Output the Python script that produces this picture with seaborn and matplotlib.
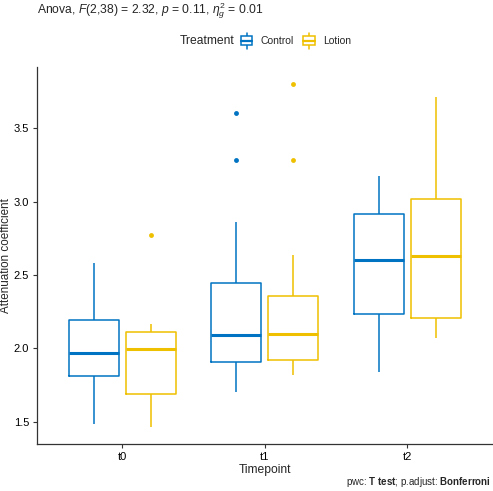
import pandas as pd
import seaborn as sns
import matplotlib
matplotlib.use('Agg')
import matplotlib.pyplot as plt
from matplotlib.legend_handler import HandlerBase
from matplotlib.patches import Rectangle
from matplotlib.lines import Line2D

timepoints = ['t0', 't1', 't2']
treatments = ['Control', 'Lotion']
colors = ['#0073C2', '#EFC000']

t0_control = [1.484, 1.62, 1.74, 1.813, 1.88, 1.93, 1.968, 2.03, 2.10, 2.193, 2.30, 2.45, 2.584]
t0_lotion = [1.464, 1.55, 1.64, 1.691, 1.80, 1.90, 1.995, 2.03, 2.07, 2.109, 2.14, 2.166, 2.774]
t1_control = [1.700, 1.80, 1.87, 1.909, 1.98, 2.04, 2.093, 2.20, 2.33, 2.443, 2.863, 3.284, 3.602]
t1_lotion = [1.820, 1.86, 1.89, 1.918, 1.98, 2.05, 2.100, 2.18, 2.27, 2.359, 2.636, 3.284, 3.800]
t2_control = [1.840, 2.00, 2.12, 2.232, 2.38, 2.50, 2.600, 2.72, 2.83, 2.913, 3.00, 3.10, 3.175]
t2_lotion = [2.068, 2.12, 2.17, 2.205, 2.35, 2.50, 2.627, 2.75, 2.90, 3.016, 3.25, 3.50, 3.711]

groups = {
    ('t0', 'Control'): t0_control, ('t0', 'Lotion'): t0_lotion,
    ('t1', 'Control'): t1_control, ('t1', 'Lotion'): t1_lotion,
    ('t2', 'Control'): t2_control, ('t2', 'Lotion'): t2_lotion,
}
rows = []
for (tp, tr), vals in groups.items():
    for v in vals:
        rows.append({'Timepoint': tp, 'Treatment': tr, 'Attenuation coefficient': v})
data = pd.DataFrame(rows)


class BoxKey(HandlerBase):
    """Маленький значок ящика с усами, как в ggplot."""
    def create_artists(self, legend, orig_handle, xdescent, ydescent, width, height, fontsize, trans):
        c = orig_handle.get_edgecolor()
        cx = width / 2 - xdescent
        cy = height / 2 - ydescent
        w = 8.5
        h = 6.5
        box = Rectangle((cx - w / 2, cy - h / 2), w, h, facecolor='white', edgecolor=c,
                        linewidth=1.1, transform=trans)
        wh = Line2D([cx, cx], [cy - h / 2 - 2.5, cy + h / 2 + 2.5], color=c, linewidth=1.1,
                    transform=trans)
        med = Line2D([cx - w / 2, cx + w / 2], [cy, cy], color=c, linewidth=1.6, transform=trans)
        return [wh, box, med]


sns.set_style('ticks')
plt.rcParams['font.family'] = ['Liberation Sans', 'DejaVu Sans']
plt.rcParams['mathtext.fontset'] = 'custom'
plt.rcParams['mathtext.rm'] = 'Liberation Sans'
plt.rcParams['mathtext.it'] = 'Liberation Sans:italic'
plt.rcParams['mathtext.bf'] = 'Liberation Sans:bold'

fig = plt.figure(figsize=(4.93, 4.91), dpi=100)
ax = fig.add_axes([0.0745, 0.0957, 0.925, 0.7678])

sns.boxplot(data=data, x='Timepoint', y='Attenuation coefficient', hue='Treatment',
            order=timepoints, hue_order=treatments, palette=colors, fill=False,
            width=0.8, gap=0.12, linewidth=1.1, whis=1.5, showcaps=False,
            medianprops={'linewidth': 2.2},
            flierprops={'marker': 'o', 'markersize': 3.5, 'markeredgewidth': 0},
            ax=ax)

# точки-выбросы закрашиваем цветом группы
for cont, c in zip(ax.containers, colors):
    for f in cont.fliers:
        f.set_markerfacecolor(c)
        f.set_markeredgecolor(c)

ax.set_xlim(-0.6, 2.6)
ax.set_ylim(1.348, 3.917)
ax.set_yticks([1.5, 2.0, 2.5, 3.0, 3.5])
ax.set_yticklabels(['1.5', '2.0', '2.5', '3.0', '3.5'])
ax.tick_params(axis='both', labelsize=8, colors='#333333', labelcolor='black',
               length=3, width=0.8, pad=2.5)
ax.set_xlabel('Timepoint', fontsize=8.7, labelpad=1.5)
ax.set_ylabel('Attenuation coefficient', fontsize=8.4)
ax.yaxis.set_label_coords(-0.0545, 0.5)
sns.despine(ax=ax)
for s in ['left', 'bottom']:
    ax.spines[s].set_linewidth(0.9)
    ax.spines[s].set_color('#333333')

# легенда сверху, заголовок слева в одной строке
ax.get_legend().remove()
handles = [Rectangle((0, 0), 1, 1, facecolor='white', edgecolor=c) for c in colors]
ax.legend(handles, treatments, handler_map={Rectangle: BoxKey()},
          loc='center', bbox_to_anchor=(0.565, 1.069), ncol=2, frameon=False,
          fontsize=7.5, handlelength=1.7, handleheight=1.0, columnspacing=0.6,
          handletextpad=0.5, borderpad=0)
fig.text(0.365, 0.917, 'Treatment', fontsize=8.7, va='center', ha='left')

fig.text(0.075, 0.978, r'Anova, $\it{F}$(2,38) = 2.32, $\it{p}$ = 0.11, $\eta_g^2$ = 0.01',
         fontsize=8.7, va='center', ha='left')
fig.text(0.995, 0.018, r'pwc: $\bf{T\ test}$; p.adjust: $\bf{Bonferroni}$',
         fontsize=7, va='center', ha='right')

plt.savefig('out.png', dpi=100)
plt.close()
